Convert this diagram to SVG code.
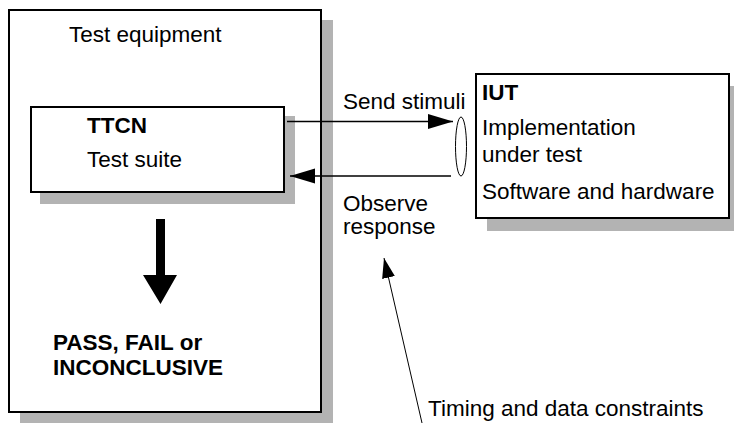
<svg xmlns="http://www.w3.org/2000/svg" width="734" height="423" viewBox="0 0 734 423">
  <defs>
    <style>
      .shadow { fill: #b3b3b3; }
      .box { fill: #ffffff; stroke: #000000; stroke-width: 2; }
      .t { font-family: "Liberation Sans", Arial, sans-serif; font-size: 22.5px; fill: #000000; }
      .b { font-weight: bold; }
      .link { stroke: #000000; stroke-width: 1.5; fill: none; }
      .thin { stroke: #000000; stroke-width: 1; fill: none; }
    </style>
    <marker id="head" markerUnits="userSpaceOnUse" markerWidth="26" markerHeight="16" refX="25" refY="7.5" orient="auto">
      <path d="M0,0 L25,7.5 L0,15 Z" fill="#000000"/>
    </marker>
    <marker id="headSmall" markerUnits="userSpaceOnUse" markerWidth="22" markerHeight="14" refX="20" refY="6.5" orient="auto">
      <path d="M0,0 L20,6.5 L0,13 Z" fill="#000000"/>
    </marker>
  </defs>

  <rect width="734" height="423" fill="#ffffff"/>

  <!-- Test equipment -->
  <g id="test-equipment">
    <rect class="shadow" x="20" y="20" width="313" height="403"/>
    <rect class="box" x="9" y="10" width="312" height="402"/>
    <text class="t" x="69" y="41.5">Test equipment</text>
  </g>

  <!-- TTCN test suite -->
  <g id="ttcn">
    <rect class="shadow" x="40" y="116" width="255" height="88"/>
    <rect class="box" x="31" y="107" width="253" height="85"/>
    <text class="t b" x="87" y="132.5">TTCN</text>
    <text class="t" x="87" y="167">Test suite</text>
  </g>

  <!-- Verdict -->
  <g id="verdict">
    <path d="M156,219 H165 V275 H177 L160.5,304 L143,275 H156 Z" fill="#000000"/>
    <text class="t b" x="53" y="350">PASS, FAIL or</text>
    <text class="t b" x="53" y="375">INCONCLUSIVE</text>
  </g>

  <!-- Implementation under test -->
  <g id="iut">
    <rect class="shadow" x="487" y="86" width="247" height="145"/>
    <rect class="box" x="476" y="74" width="253" height="144"/>
    <text class="t b" x="482" y="100">IUT</text>
    <text class="t" x="482" y="135">Implementation</text>
    <text class="t" x="482" y="161.5">under test</text>
    <text class="t" x="482" y="198.5">Software and hardware</text>
  </g>

  <!-- Point of control and observation -->
  <g id="pco">
    <ellipse cx="461" cy="146.5" rx="5.5" ry="29.5" fill="#ffffff" stroke="#000000" stroke-width="1"/>
  </g>

  <!-- Connectors -->
  <g id="connectors">
    <line class="link" x1="287" y1="121.5" x2="453" y2="121.5" marker-end="url(#head)"/>
    <line class="link" x1="451" y1="176" x2="290" y2="176" marker-end="url(#head)"/>
    <line class="thin" x1="422" y1="423" x2="384" y2="258" marker-end="url(#headSmall)"/>
  </g>

  <!-- Connector labels -->
  <g id="labels">
    <text class="t" x="343" y="109">Send stimuli</text>
    <text class="t" x="343" y="210.5">Observe</text>
    <text class="t" x="343" y="234">response</text>
    <text class="t" x="428" y="416">Timing and data constraints</text>
  </g>
</svg>
